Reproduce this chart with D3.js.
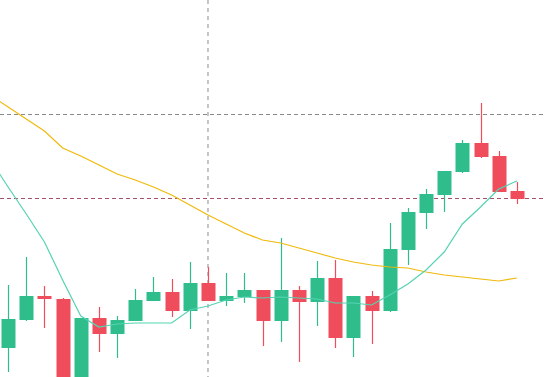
<!DOCTYPE html>
<html>
<head>
<meta charset="utf-8">
<script src="https://cdn.jsdelivr.net/npm/d3@7"></script>
<style>
  html, body { margin: 0; padding: 0; background: #fff; }
  svg { display: block; }
</style>
</head>
<body>
<div class="chart"></div>
<script>
// candle data (price units), one entry per bar
var dates = ["d01","d02","d03","d04","d05","d06","d07","d08","d09","d10",
             "d11","d12","d13","d14","d15","d16","d17","d18","d19","d20",
             "d21","d22","d23","d24","d25","d26","d27","d28","d29"];
var open  = [102.9,105.7,108.1,107.8, 97.2,105.9,104.3,105.6,107.6,108.5,
             106.6,109.4,107.6,108.0,108.7,105.6,108.7,107.5,109.9,103.9,
             108.1,106.6,112.7,116.4,118.2,120.5,123.4,122.1,118.6];
var close = [105.8,108.1,107.8, 97.7,105.9,104.3,105.7,107.7,108.5,106.6,
             109.4,107.6,108.1,108.7,105.6,108.7,107.5,109.9,103.9,108.1,
             106.6,112.8,116.5,118.3,120.6,123.4,122.0,118.5,117.8];
var high  = [109.2,112.0,109.1,107.9,105.9,107.0,106.1,108.8,110.0,109.8,
             111.5,111.0,110.4,110.4,108.7,113.9,109.1,111.6,111.7,108.1,
             108.6,115.4,116.9,118.8,120.6,123.7,127.4,122.6,119.5];
var low   = [100.5,105.6,104.9, 96.7, 96.2,102.5,101.9,105.6,107.6,106.0,
             104.8,107.6,107.1,107.4,103.1,103.5,101.5,105.1,102.9,102.0,
             103.3,106.5,111.2,114.8,116.5,120.4,121.9,118.5,117.3];

// moving averages; first value belongs to the bar just left of the view
var maFast = [121.8,119.0,116.3,113.5,109.7,106.1,105.0,105.3,105.4,105.4,105.4,
              106.7,107.1,107.7,108.0,107.9,108.0,107.9,107.8,107.4,107.4,
              107.2,108.2,109.3,110.7,112.5,115.3,117.0,118.8,119.6];
var maSlow = [128.2,127.0,125.8,124.6,122.9,122.1,121.2,120.3,119.7,119.0,118.2,
              117.2,116.2,115.3,114.4,113.7,113.4,112.9,112.4,111.9,111.5,
              111.2,111.0,110.9,110.5,110.2,110.0,109.8,109.6,109.9];

// crosshair levels
var crossIndex = 11;
var crossPrices = [126.3, 117.9];

var width = 545, height = 377;
var upColor = "#2ebd8b", downColor = "#ef4d5c";

var svg = d3.select(".chart").append("svg")
    .attr("width", width)
    .attr("height", height);

var xScale = d3.scaleLinear()
    .domain([0, dates.length - 1])
    .range([8.1, 516.9]);
var candleW = 14;

var yScale = d3.scaleLinear()
    .domain([100, 137.7])
    .range([height, 0]);

var candles = dates.map(function(d, i) {
    return {date: d, o: open[i], c: close[i], h: high[i], l: low[i], i: i};
});

// crosshair lines
svg.append("line")
    .attr("x1", xScale(crossIndex)).attr("x2", xScale(crossIndex))
    .attr("y1", 0).attr("y2", height)
    .attr("stroke", "#8a8a8a")
    .attr("stroke-width", 1)
    .attr("stroke-dasharray", "4,4");

svg.selectAll(".hline")
    .data(crossPrices)
    .enter()
    .append("line")
    .attr("class", "hline")
    .attr("x1", 0).attr("x2", width)
    .attr("y1", d => Math.round(yScale(d)) + 0.5)
    .attr("y2", d => Math.round(yScale(d)) + 0.5)
    .attr("stroke", (d, i) => i == 0 ? "#8a8a8a" : "#a3506a")
    .attr("stroke-width", 1)
    .attr("stroke-dasharray", "4,3");

// wicks
svg.selectAll(".wick")
    .data(candles)
    .enter()
    .append("line")
    .attr("class", "wick")
    .attr("x1", d => Math.round(xScale(d.i)) + 0.5)
    .attr("x2", d => Math.round(xScale(d.i)) + 0.5)
    .attr("y1", d => yScale(d.h))
    .attr("y2", d => yScale(d.l))
    .attr("stroke", d => d.c >= d.o ? upColor : downColor)
    .attr("stroke-width", 1.2);

// bodies
svg.selectAll(".body")
    .data(candles)
    .enter()
    .append("rect")
    .attr("class", "body")
    .attr("x", d => Math.round(xScale(d.i)) + 0.5 - candleW / 2)
    .attr("y", d => yScale(Math.max(d.o, d.c)))
    .attr("width", candleW)
    .attr("height", d => Math.max(2, Math.abs(yScale(d.o) - yScale(d.c))))
    .attr("fill", d => d.c >= d.o ? upColor : downColor);

// moving average lines
var maLine = d3.line()
    .x((d, i) => xScale(i - 1))
    .y(d => yScale(d));

svg.append("path")
    .datum(maSlow)
    .attr("d", maLine)
    .attr("fill", "none")
    .attr("stroke", "#f0b90b")
    .attr("stroke-width", 1.2);

svg.append("path")
    .datum(maFast)
    .attr("d", maLine)
    .attr("fill", "none")
    .attr("stroke", "#55d3b2")
    .attr("stroke-width", 1.2);
</script>
</body>
</html>
